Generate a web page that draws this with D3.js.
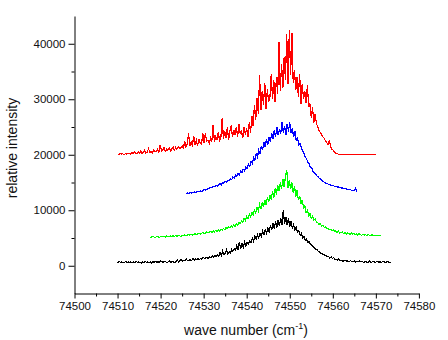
<!DOCTYPE html>
<html>
<head>
<meta charset="utf-8">
<script src="https://cdn.jsdelivr.net/npm/d3@7"></script>
<style>
  html, body { margin: 0; padding: 0; background: #ffffff; }
  svg { display: block; font-family: "Liberation Sans", Arial, sans-serif; }
</style>
</head>
<body>
<svg id="chart" width="448" height="340"></svg>
<script>
// Axis tick values
const xMajorTicks = [74500, 74510, 74520, 74530, 74540, 74550, 74560, 74570, 74580];
const xMinorTicks = [74505, 74515, 74525, 74535, 74545, 74555, 74565, 74575];
const yMajorTicks = [0, 10000, 20000, 30000, 40000];
const yMinorTicks = [5000, 15000, 25000, 35000];

// Spectra sampled every 0.3 cm^-1, intensities in thousands of counts
const sampleStep = 0.3;

const blackStart = 74509.8;
const blackValues = [
  0.7, 0.5, 0.8, 0.6, 0.7, 0.5, 0.6, 0.8, 0.6, 0.7,
  0.6, 0.7, 0.5, 0.7, 0.6, 0.8, 0.6, 0.7, 0.6, 0.5,
  0.7, 0.6, 0.8, 0.6, 0.7, 0.6, 0.7, 0.5, 0.7, 0.6,
  0.8, 0.6, 0.7, 0.6, 0.9, 0.7, 0.6, 0.8, 0.7, 0.6,
  0.7, 0.9, 0.6, 0.8, 0.7, 0.6, 0.8, 1.0, 0.7, 0.9,
  1.1, 0.8, 1.0, 0.9, 1.2, 0.9, 1.0, 1.1, 0.9, 1.3,
  1.0, 1.2, 1.1, 1.4, 1.1, 1.3, 1.2, 1.5, 1.3, 1.4,
  1.5, 1.3, 1.6, 1.5, 1.8, 1.5, 1.9, 1.7, 2.0, 1.7,
  2.4, 1.8, 2.6, 2.0, 2.2, 2.8, 2.1, 2.5, 2.3, 2.9,
  2.6, 3.1, 2.8, 3.7, 2.9, 4.3, 3.0, 4.0, 3.3, 4.3,
  3.6, 4.2, 3.9, 4.5, 4.1, 5.0, 4.4, 5.3, 4.8, 5.6,
  5.0, 5.9, 5.3, 6.2, 5.6, 6.5, 5.9, 6.8, 6.1, 7.3,
  6.4, 7.6, 6.7, 8.0, 6.9, 8.3, 7.1, 8.6, 7.4, 9.96,
  7.6, 8.8, 7.3, 8.5, 7.0, 8.1, 6.8, 7.4, 6.5, 6.9,
  6.0, 6.3, 5.5, 5.8, 5.0, 5.3, 4.6, 4.8, 4.2, 4.3,
  3.9, 3.7, 3.4, 3.3, 3.0, 2.9, 2.6, 2.5, 2.3, 2.2,
  2.0, 1.9, 1.8, 1.6, 1.7, 1.4, 1.6, 1.3, 1.5, 1.1,
  1.2, 1.0, 1.3, 0.9, 1.0, 0.8, 0.9, 1.0, 0.8, 0.9,
  0.7, 0.9, 0.8, 0.7, 0.9, 0.6, 0.8, 0.7, 0.9, 0.7,
  0.8, 0.6, 0.7, 0.8, 0.6, 0.7, 0.9, 0.6, 0.7, 0.8,
  0.6, 0.7, 0.8, 0.6, 0.7, 0.6, 0.8, 0.7, 0.6, 0.7,
  0.7, 0.6, 0.7
];

const greenStart = 74517.5;
const greenValues = [
  5.2, 5.1, 5.3, 5.2, 5.1, 5.2, 5.3, 5.1, 5.2, 5.3,
  5.2, 5.3, 5.2, 5.4, 5.3, 5.2, 5.4, 5.3, 5.4, 5.3,
  5.4, 5.3, 5.5, 5.4, 5.3, 5.5, 5.4, 5.6, 5.4, 5.5,
  5.6, 5.5, 5.7, 5.5, 5.6, 5.8, 5.6, 5.7, 5.9, 5.7,
  5.8, 6.0, 5.8, 5.9, 6.1, 5.9, 6.0, 6.2, 6.0, 6.3,
  6.1, 6.4, 6.2, 6.5, 6.3, 6.6, 6.4, 6.7, 6.5, 6.9,
  6.7, 7.0, 6.8, 7.2, 7.0, 7.4, 7.1, 7.5, 7.3, 7.8,
  7.6, 8.1, 7.8, 8.5, 8.1, 8.9, 8.5, 9.3, 8.8, 9.6,
  9.2, 10.0, 9.5, 10.5, 9.9, 11.0, 10.3, 11.4, 10.6, 11.9,
  11.0, 12.3, 11.5, 12.8, 11.9, 13.4, 12.3, 13.9, 12.8, 14.5,
  13.4, 15.0, 13.8, 15.6, 14.2, 16.0, 17.3, 14.0, 15.4, 13.8,
  15.0, 13.2, 14.4, 12.4, 13.6, 11.8, 12.6, 11.2, 11.9, 10.4,
  10.8, 9.6, 10.0, 9.0, 9.4, 8.6, 8.9, 8.2, 8.4, 7.9,
  7.8, 7.4, 7.6, 7.1, 7.3, 6.9, 7.0, 6.7, 6.8, 6.5,
  6.6, 6.3, 6.5, 6.2, 6.3, 6.0, 6.2, 5.9, 6.0, 6.1,
  5.8, 6.0, 5.7, 5.9, 5.8, 5.6, 5.9, 5.7, 5.8, 5.6,
  5.7, 5.5, 5.8, 5.6, 5.5, 5.7, 5.5, 5.6, 5.4, 5.6,
  5.5, 5.4, 5.6, 5.5, 5.4, 5.5, 5.4, 5.5, 5.5, 5.4
];

const blueStart = 74526.0;
const blueValues = [
  13.0, 13.1, 13.0, 13.2, 13.1, 13.2, 13.3, 13.2, 13.3, 13.4,
  13.4, 13.5, 13.4, 13.6, 13.7, 13.6, 13.8, 13.9, 14.0, 14.2,
  14.1, 14.3, 14.2, 14.5, 14.4, 14.6, 14.8, 14.6, 15.0, 14.9,
  15.2, 15.0, 15.4, 15.3, 15.7, 15.5, 16.0, 15.8, 16.3, 16.1,
  16.6, 16.4, 17.0, 16.8, 17.4, 17.1, 17.8, 17.5, 18.3, 17.9,
  18.8, 18.4, 19.5, 19.0, 20.2, 19.6, 20.8, 20.1, 21.6, 20.8,
  22.3, 21.4, 22.8, 21.8, 23.2, 22.3, 23.9, 22.8, 24.4, 23.2,
  25.0, 23.5, 24.6, 23.8, 25.9, 24.0, 25.2, 23.6, 25.6, 24.2,
  25.8, 24.0, 24.8, 23.2, 24.3, 22.6, 23.0, 21.8, 22.0, 21.3,
  20.7, 20.2, 19.6, 19.3, 18.6, 18.4, 17.7, 17.6, 17.0, 16.8,
  16.5, 16.2, 16.0, 15.7, 15.6, 15.3, 15.2, 15.0, 14.9, 14.8,
  14.7, 14.6, 14.5, 14.5, 14.4, 14.3, 14.3, 14.2, 14.2, 14.1,
  14.0, 14.0, 13.9, 13.9, 13.8, 13.7, 13.7, 13.7, 13.6, 13.6,
  13.6, 14.0, 13.3
];

const redStart = 74510.0;
const redValues = [
  20.2, 20.0, 20.3, 20.1, 20.2, 20.0, 20.2, 20.1, 20.3, 20.2,
  20.1, 20.4, 20.2, 20.6, 20.3, 20.2, 20.5, 20.3, 20.7, 20.2,
  20.4, 20.8, 20.3, 20.5, 21.1, 20.4, 20.6, 20.3, 20.9, 20.5,
  20.6, 21.0, 20.5, 21.8, 20.7, 20.9, 21.3, 20.6, 21.0, 20.8,
  21.2, 20.7, 21.0, 21.4, 20.8, 21.3, 21.0, 21.5, 21.1, 21.3,
  21.6, 21.2, 22.4, 21.4, 22.0, 23.9, 21.5, 22.3, 21.7, 23.4,
  21.8, 22.6, 21.6, 22.9, 22.0, 21.9, 23.9, 22.1, 23.9, 22.4,
  22.6, 22.0, 23.0, 22.4, 25.4, 22.3, 23.2, 22.8, 24.0, 22.6,
  23.1, 26.6, 22.8, 24.2, 23.0, 25.0, 22.7, 24.3, 25.3, 23.2,
  24.5, 23.6, 25.0, 23.3, 25.6, 23.8, 24.2, 23.0, 25.0, 23.6,
  24.8, 23.2, 25.9, 24.0, 27.0, 25.2, 29.0, 26.2, 30.3, 27.4,
  34.3, 28.0, 31.5, 29.0, 33.0, 28.3, 31.8, 29.5, 30.5, 34.6,
  30.0, 33.5, 29.5, 34.0, 31.0, 40.3, 31.5, 36.4, 32.0, 37.6,
  33.5, 41.8, 32.8, 42.5, 34.3, 42.0, 33.0, 35.2, 31.6, 34.0,
  30.5, 34.6, 29.2, 32.8, 30.0, 31.5, 29.4, 32.5, 28.6, 29.2,
  26.7, 28.5, 25.8, 27.3, 25.6, 25.0, 24.3, 24.0, 23.6, 23.2,
  23.0, 22.5, 22.2, 21.8, 22.6, 21.4, 21.0, 20.8, 20.5, 20.3,
  20.2, 20.1, 20.0, 20.0, 20.0, 20.0, 20.0, 20.0, 20.0, 20.0,
  20.0, 20.0, 20.0, 20.0, 20.0, 20.0, 20.0, 20.0, 20.0, 20.0,
  20.0, 20.0, 20.0, 20.0, 20.0, 20.0, 20.0, 20.0, 20.0, 20.0,
  20.0
];

const spectra = [
  { name: "black", color: "#000000", start: blackStart, values: blackValues },
  { name: "green", color: "#00ff00", start: greenStart, values: greenValues },
  { name: "blue",  color: "#0000ff", start: blueStart,  values: blueValues },
  { name: "red",   color: "#ff0000", start: redStart,   values: redValues }
];

const svg = d3.select("#chart");

const x = d3.scaleLinear().domain([74500, 74580]).range([74.5, 418.9]);
const y = d3.scaleLinear().domain([-5000, 45000]).range([293.5, 16]);

// Spectra, drawn without anti-aliasing for a crisp 1px trace
const line = d3.line()
  .x(d => x(d.wn))
  .y(d => y(d.intensity));

spectra.forEach(s => {
  const pts = s.values.map((v, i) => ({ wn: s.start + i * sampleStep, intensity: v * 1000 }));
  svg.append("path")
    .datum(pts)
    .attr("fill", "none")
    .attr("stroke", s.color)
    .attr("stroke-width", 1.2)
    .attr("shape-rendering", "crispEdges")
    .attr("d", line);
});

// X axis: major ticks with labels, minor ticks without
const xAxisMajor = d3.axisBottom(x).tickValues(xMajorTicks).tickSize(5).tickSizeOuter(0)
  .tickPadding(3).tickFormat(d3.format("d"));
const xAxisMinor = d3.axisBottom(x).tickValues(xMinorTicks).tickSize(3).tickSizeOuter(0)
  .tickFormat("");

const gxMinor = svg.append("g").attr("transform", "translate(0,293.5)").call(xAxisMinor);
gxMinor.select(".domain").remove();
const gx = svg.append("g").attr("transform", "translate(0,293.5)").call(xAxisMajor);

// Y axis
const yAxisMajor = d3.axisLeft(y).tickValues(yMajorTicks).tickSize(6).tickSizeOuter(0)
  .tickPadding(3).tickFormat(d3.format("d"));
const yAxisMinor = d3.axisLeft(y).tickValues(yMinorTicks).tickSize(3).tickSizeOuter(0)
  .tickFormat("");

const gyMinor = svg.append("g").attr("transform", "translate(74.5,0)").call(yAxisMinor);
gyMinor.select(".domain").remove();
const gy = svg.append("g").attr("transform", "translate(74.5,0)").call(yAxisMajor);

svg.selectAll(".tick text")
  .attr("fill", "#111111")
  .style("font-size", "11.5px")
  .style("font-family", "\"Liberation Sans\", Arial, sans-serif");
svg.selectAll(".domain, .tick line").attr("stroke", "#000000");

// Axis titles
svg.append("text")
  .attr("transform", "translate(17,148) rotate(-90)")
  .attr("text-anchor", "middle")
  .attr("fill", "#111111")
  .style("font-size", "14px")
  .text("relative intensity");

const xTitle = svg.append("text")
  .attr("x", 246)
  .attr("y", 335)
  .attr("text-anchor", "middle")
  .attr("fill", "#111111")
  .style("font-size", "14px");
xTitle.append("tspan").text("wave number (cm");
xTitle.append("tspan").attr("dy", -6).style("font-size", "9px").text("-1");
xTitle.append("tspan").attr("dy", 6).text(")");
</script>
</body>
</html>
